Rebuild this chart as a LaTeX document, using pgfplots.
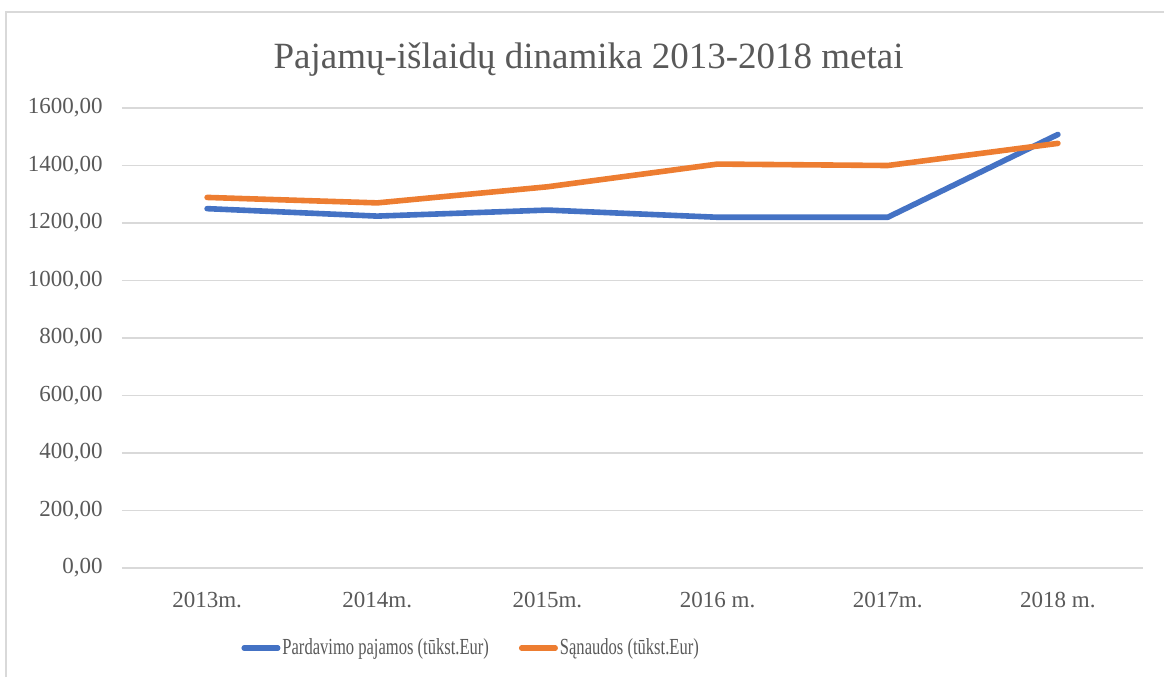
\documentclass[border=0pt]{standalone}
\usepackage{pgfplots}
\pgfplotsset{compat=1.18}
\usepackage{fontspec}
\setmainfont{Liberation Serif}
\usepackage{graphicx}
\definecolor{myblue}{HTML}{4472C4}
\definecolor{myorange}{HTML}{ED7D31}
\definecolor{gridc}{HTML}{D9D9D9}
\definecolor{txt}{HTML}{595959}
\begin{document}
\begin{tikzpicture}
\path[use as bounding box] (0pt,0pt) rectangle (582pt,-338.5pt);
\draw[gridc, line width=0.75pt] (3pt,-338.5pt) -- (3pt,-6pt) -- (582pt,-6pt);
\node[anchor=base, text=txt, inner sep=0pt, font=\fontsize{18.5}{22}\selectfont] at (294.25pt,-34pt) {Pajamų-išlaidų dinamika 2013-2018 metai};
\begin{axis}[
  at={(61pt,-284pt)}, anchor=south west,
  scale only axis, width=510.5pt, height=230pt,
  xmin=-0.5, xmax=5.5, ymin=0, ymax=1600,
  axis line style={draw=none},
  clip=false,
  ymajorgrids, ytick={0,200,...,1600},
  xtick={0,...,5},
  xticklabels={2013m.,2014m.,2015m.,2016 m.,2017m.,2018 m.},
  grid style={gridc, line width=0.75pt},
  major tick length=0pt,
  tick style={draw=none},
  /pgf/number format/.cd, fixed, fixed zerofill, precision=2, use comma, 1000 sep={}, assume math mode=true,
  /pgfplots/.cd,
  yticklabel style={anchor=east, inner sep=0pt, xshift=-9.5pt, text=txt, font=\fontsize{11.5}{13}\selectfont},
  xticklabel style={anchor=north, inner sep=0pt, yshift=-12pt, text=txt, font=\fontsize{11.5}{13}\selectfont},
  legend columns=2,
  legend style={at={(0.1166,-0.174)}, anchor=west, draw=none, fill=none, inner sep=0pt,
    font=\fontsize{11.5}{13}\selectfont, text=txt,
    /tikz/every even column/.append style={column sep=14pt},
    nodes={inner sep=1pt}},
  legend image code/.code={\draw[#1, line width=2.6pt, line cap=round] (1.3pt,0pt) -- (18.2pt,0pt);},
]
\addplot[myblue, line width=2.8pt, line cap=round, line join=round] coordinates {(0,1250) (1,1224) (2,1245) (3,1220) (4,1220) (5,1508)};
\addlegendentry{\scalebox{0.72}[1]{Pardavimo pajamos (tūkst.Eur)}}
\addplot[myorange, line width=2.8pt, line cap=round, line join=round] coordinates {(0,1289) (1,1270) (2,1326) (3,1405) (4,1400) (5,1477)};
\addlegendentry{\scalebox{0.72}[1]{Sąnaudos (tūkst.Eur)}}
\end{axis}
\end{tikzpicture}
\end{document}
